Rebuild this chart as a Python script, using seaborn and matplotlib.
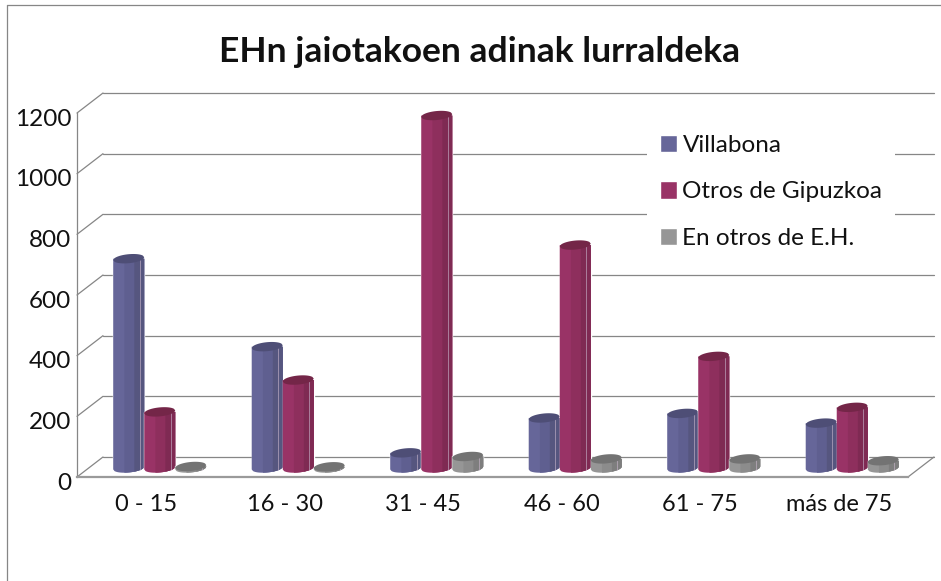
import matplotlib
matplotlib.use('Agg')
import matplotlib.pyplot as plt
import matplotlib.transforms as mtrans
import numpy as np
import pandas as pd
import seaborn as sns
from matplotlib.lines import Line2D
from matplotlib.patches import Polygon

WIDTH, HEIGHT = 941, 581

ages = ['0 - 15', '16 - 30', '31 - 45', '46 - 60', '61 - 75', 'más de 75']
villabona = [690, 400, 50, 165, 180, 148]
gipuzkoa = [185, 290, 1162, 735, 368, 200]
otros_eh = [5, 4, 38, 30, 30, 24]
series_names = ['Villabona', 'Otros de Gipuzkoa', 'En otros de E.H.']
y_ticks = [0, 200, 400, 600, 800, 1000, 1200]

colors = ['#666699', '#993366', '#969696']
mid_colors = ['#5F5F90', '#8E2F5D', '#8C8C8C']
side_colors = ['#56567F', '#7F2A53', '#7E7E7E']
top_colors = ['#4E4E76', '#742648', '#737373']
edge_color = '#868686'

# pixel geometry of the front plane
left, right, floor_y, top_y = 77, 908, 477, 113
px_x = (right - left) / len(ages)
px_y = (floor_y - top_y) / 1200
depth_x, depth_y = 26 / px_x, 20 / px_y

df = pd.DataFrame({
    'age': ages * 3,
    'serie': [s for s in series_names for _ in ages],
    'value': villabona + gipuzkoa + otros_eh,
})

sns.set_theme(style='white')
plt.rcParams['font.family'] = ['Lato', 'DejaVu Sans']

fig = plt.figure(figsize=(WIDTH / 100, HEIGHT / 100), dpi=100)


def axes_rect(x0, y_bottom):
    return [x0 / WIDTH, (HEIGHT - y_bottom) / HEIGHT, (right - left) / WIDTH, (floor_y - top_y) / HEIGHT]


ax = fig.add_axes(axes_rect(left, floor_y))
ax.set_xlim(-0.5, len(ages) - 0.5)
ax.set_ylim(0, 1200)
for name in ['top', 'right']:
    ax.spines[name].set_visible(False)
ax.spines['left'].set_color(edge_color)
ax.spines['left'].set_linewidth(0.9)
ax.spines['bottom'].set_color('#9A9A9A')
ax.spines['bottom'].set_linewidth(1.6)
ax.set_xticks(range(len(ages)))
ax.set_xticklabels(ages, fontsize=17, color='#111111')
ax.set_yticks(y_ticks)
ax.set_yticklabels([str(v) for v in y_ticks], fontsize=17.5, color='#111111')
ax.tick_params(axis='both', length=0)
ax.tick_params(axis='x', pad=12)
ax.tick_params(axis='y', pad=4)
shift_down = mtrans.ScaledTranslation(0, -4 / 100, fig.dpi_scale_trans)
for lab in ax.get_yticklabels():
    lab.set_verticalalignment('center_baseline')
    lab.set_transform(lab.get_transform() + shift_down)

# back wall lines and the depth lines going to them
x_start, x_end = -0.5, len(ages) - 0.5
for v in y_ticks:
    ax.plot([x_start + depth_x, x_end + depth_x], [v + depth_y] * 2, color=edge_color, lw=0.9, clip_on=False)
    ax.plot([x_start, x_start + depth_x], [v, v + depth_y], color=edge_color, lw=0.9, clip_on=False)
ax.plot([x_end, x_end + depth_x], [0, depth_y], color=edge_color, lw=0.9, clip_on=False)

# bars sit inside the depth, so they get their own shifted axes
bar_ax = fig.add_axes(axes_rect(left + 13.5, floor_y - 9))
bar_ax.patch.set_alpha(0)
sns.barplot(data=df, x='age', y='value', hue='serie', hue_order=series_names, palette=colors,
            saturation=1, width=0.672, gap=0, ax=bar_ax)
bar_ax.set_xlim(-0.5, len(ages) - 0.5)
bar_ax.set_ylim(0, 1200)
bar_ax.set_axis_off()


def arc(xa, xb, x0, w, base, lower=True):
    # points of the tilted ellipse between xa and xb
    xs = np.linspace(xa, xb, 24)
    u = np.clip((xs - (x0 + w / 2)) / (w / 2), -1, 1)
    bulge = 4.5 / px_y * np.sqrt(1 - u ** 2)
    tilt = 1.4 / px_y * u
    ys = base + tilt + (-bulge if lower else bulge)
    return list(zip(xs, ys))


def draw_cylinder(bar, idx):
    x0, w, h = bar.get_x(), bar.get_width(), bar.get_height()
    kw = dict(clip_on=False, lw=0, zorder=3 + idx)
    bar.set_zorder(3 + idx)
    x1 = x0 + w
    bands = [(0, 1, colors[idx]), (0.36, 1, mid_colors[idx]), (0.68, 1, side_colors[idx])]
    for a, b, col in bands:
        xa, xb = x0 + a * w, x0 + b * w
        pts = arc(xa, xb, x0, w, 0)
        body = pts + [(xb, h), (xa, h)]
        bar_ax.add_patch(Polygon(body, closed=True, fc=col, **kw))
    # highlight near the right side
    hx = x0 + 0.86 * w
    bar_ax.add_line(Line2D([hx, hx], [arc(hx, hx, x0, w, 0)[0][1], h], color='#C9B7CC', lw=0.6, alpha=0.7,
                           clip_on=False, zorder=3 + idx))
    top = arc(x0, x1, x0, w, h) + arc(x0, x1, x0, w, h, lower=False)[::-1]
    bar_ax.add_patch(Polygon(top, closed=True, fc=top_colors[idx], **kw))


for idx, container in enumerate(bar_ax.containers):
    for bar in container:
        draw_cylinder(bar, idx)

sns.move_legend(bar_ax, 'upper left', bbox_to_anchor=((647 - left - 13.5) / (right - left),
                                                      (floor_y - 9 - 122) / (floor_y - top_y)),
                title=None, frameon=True, fontsize=17.5, labelspacing=1.05, handlelength=0.72, handleheight=0.72,
                handletextpad=0.22, borderaxespad=0, borderpad=0.52)
leg = bar_ax.get_legend()
leg.get_frame().set_facecolor('white')
leg.get_frame().set_edgecolor('none')
leg.get_frame().set_alpha(1)
leg.get_frame().set_boxstyle('square', pad=0)
leg.set_zorder(2)
for t in leg.get_texts():
    t.set_color('#111111')

fig.text(480 / WIDTH, 1 - 52 / HEIGHT, 'EHn jaiotakoen adinak lurraldeka', ha='center', va='center',
         fontsize=25.5, fontweight='bold', color='#111111')

# chart area border, only left and top fall inside the picture
fig.add_artist(Line2D([7 / WIDTH, 7 / WIDTH], [0, 1 - 5 / HEIGHT], color=edge_color, lw=0.9))
fig.add_artist(Line2D([7 / WIDTH, 1], [1 - 5 / HEIGHT, 1 - 5 / HEIGHT], color=edge_color, lw=0.9))

fig.savefig('out.png', dpi=100, facecolor='white')
